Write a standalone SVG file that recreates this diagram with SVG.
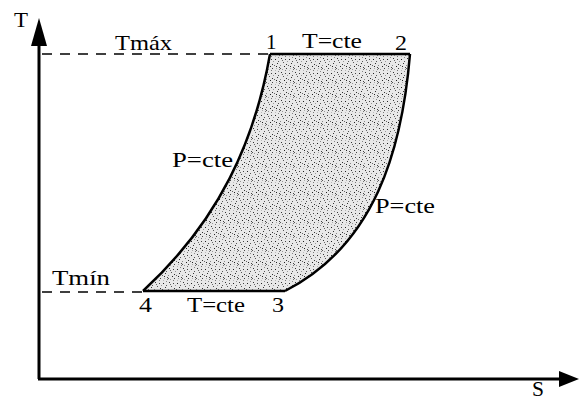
<svg xmlns="http://www.w3.org/2000/svg" width="579" height="402" viewBox="0 0 579 402">
<style>
.lbl{font-family:"Liberation Serif","Times New Roman",serif;font-size:21px;fill:#000}
.ax{stroke:#000;stroke-width:3;fill:none}
.dash{stroke:#000;stroke-width:1.3;stroke-dasharray:10,8;fill:none}
.proc{stroke:#000;stroke-width:2.5;fill:none}
</style>
<defs>
<pattern id="stip" width="14" height="14" patternUnits="userSpaceOnUse">
<rect width="14" height="14" fill="#e8e8e8"/>
<rect x="1" y="2" width="1" height="1" fill="#333"/>
<rect x="5" y="0" width="1" height="1" fill="#777"/>
<rect x="9" y="3" width="1" height="1" fill="#222"/>
<rect x="12" y="1" width="1" height="1" fill="#888"/>
<rect x="3" y="6" width="1" height="1" fill="#555"/>
<rect x="7" y="5" width="1" height="1" fill="#999"/>
<rect x="11" y="7" width="1" height="1" fill="#333"/>
<rect x="0" y="9" width="1" height="1" fill="#888"/>
<rect x="4" y="10" width="1" height="1" fill="#222"/>
<rect x="8" y="9" width="1" height="1" fill="#666"/>
<rect x="13" y="11" width="1" height="1" fill="#444"/>
<rect x="2" y="13" width="1" height="1" fill="#999"/>
<rect x="6" y="12" width="1" height="1" fill="#444"/>
<rect x="10" y="12" width="1" height="1" fill="#aaa"/>
<rect x="9" y="0" width="1" height="1" fill="#bbb"/>
<rect x="6" y="8" width="1" height="1" fill="#333"/>
<rect x="2" y="4" width="1" height="1" fill="#666"/>
<rect x="12" y="5" width="1" height="1" fill="#555"/>
<rect x="10" y="10" width="1" height="1" fill="#222"/>
<rect x="0" y="12" width="1" height="1" fill="#555"/>
<rect x="5" y="3" width="1" height="1" fill="#444"/>
<rect x="13" y="13" width="1" height="1" fill="#777"/>
</pattern>
</defs>
<g id="region">
<path d="M270,54 L410,54 C402,150 375,245 285,291 L143,291 C220,220 255,140 270,54 Z" fill="url(#stip)" stroke="none"/>
</g>
<g id="connectors">
<line class="ax" x1="39" y1="379" x2="39" y2="40"/>
<polygon points="39,18 31,46 47,46" fill="#000"/>
<line class="ax" x1="38" y1="379" x2="562" y2="379"/>
<polygon points="579,379 559,371 559,387" fill="#000"/>
<line class="dash" x1="42" y1="54" x2="270" y2="54"/>
<line class="dash" x1="42" y1="292" x2="143" y2="292"/>
<line id="p12" class="proc" x1="270" y1="54" x2="410" y2="54"/>
<path id="p23" class="proc" d="M410,54 C402,150 375,245 285,291"/>
<line id="p34" class="proc" x1="285" y1="291" x2="143" y2="291"/>
<path id="p41" class="proc" d="M143,291 C220,220 255,140 270,54"/>
</g>
<g id="labels" class="lbl">
<text x="14" y="27" textLength="14" lengthAdjust="spacingAndGlyphs">T</text>
<text x="532" y="396" textLength="12" lengthAdjust="spacingAndGlyphs">S</text>
<text x="115" y="50" textLength="57" lengthAdjust="spacingAndGlyphs">Tmáx</text>
<text x="52" y="285" textLength="58" lengthAdjust="spacingAndGlyphs">Tmín</text>
<text x="266" y="49">1</text>
<text x="302" y="48" textLength="60" lengthAdjust="spacingAndGlyphs">T=cte</text>
<text x="395" y="50" textLength="12" lengthAdjust="spacingAndGlyphs">2</text>
<text x="139" y="312" textLength="13" lengthAdjust="spacingAndGlyphs">4</text>
<text x="187" y="312" textLength="58" lengthAdjust="spacingAndGlyphs">T=cte</text>
<text x="272" y="312" textLength="12" lengthAdjust="spacingAndGlyphs">3</text>
<text x="172" y="167" textLength="61" lengthAdjust="spacingAndGlyphs">P=cte</text>
<text x="375" y="213" textLength="60" lengthAdjust="spacingAndGlyphs">P=cte</text>
</g>
</svg>
